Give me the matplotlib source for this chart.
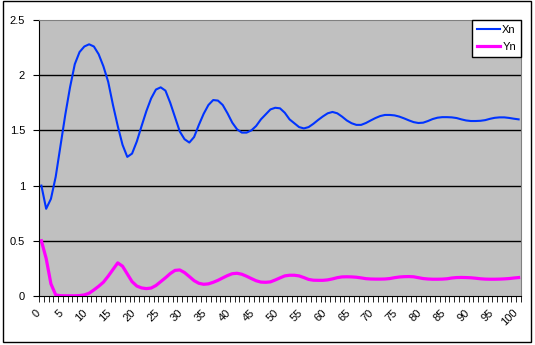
import numpy as np
import matplotlib.pyplot as plt
import matplotlib.transforms as mtransforms
from matplotlib.patches import Rectangle

plt.rcParams['font.family'] = ['Liberation Sans', 'DejaVu Sans']

# step numbers 0..100
n = list(range(101))

# values
xn = [1.00, 0.79, 0.88, 1.08, 1.36, 1.64, 1.89, 2.10, 2.21, 2.26,
      2.28, 2.26, 2.19, 2.08, 1.94, 1.73, 1.54, 1.37, 1.26, 1.29,
      1.40, 1.54, 1.675, 1.79, 1.87, 1.89, 1.86, 1.75, 1.62, 1.49,
      1.42, 1.39, 1.44, 1.55, 1.65, 1.73, 1.775, 1.77, 1.73, 1.655,
      1.57, 1.51, 1.48, 1.48, 1.50, 1.54, 1.60, 1.645, 1.69, 1.705,
      1.70, 1.66, 1.60, 1.565, 1.53, 1.518, 1.53, 1.56, 1.595, 1.627,
      1.655, 1.667, 1.655, 1.625, 1.59, 1.565, 1.55, 1.55, 1.567, 1.59,
      1.612, 1.63, 1.64, 1.64, 1.636, 1.625, 1.609, 1.591, 1.575, 1.567,
      1.57, 1.585, 1.603, 1.615, 1.62, 1.62, 1.618, 1.612, 1.60, 1.59,
      1.585, 1.585, 1.587, 1.593, 1.605, 1.614, 1.618, 1.618, 1.613, 1.606,
      1.60]

yn = [0.50, 0.34, 0.11, 0.01, 0.003, 0.002, 0.002, 0.002, 0.004, 0.01,
      0.025, 0.055, 0.088, 0.125, 0.18, 0.24, 0.30, 0.27, 0.20, 0.13,
      0.09, 0.073, 0.067, 0.072, 0.095, 0.13, 0.165, 0.203, 0.232, 0.236,
      0.212, 0.176, 0.139, 0.115, 0.106, 0.11, 0.124, 0.142, 0.164, 0.185,
      0.202, 0.206, 0.197, 0.179, 0.158, 0.138, 0.126, 0.124, 0.128, 0.145,
      0.164, 0.182, 0.188, 0.188, 0.182, 0.167, 0.15, 0.143, 0.142, 0.142,
      0.146, 0.155, 0.166, 0.173, 0.174, 0.173, 0.17, 0.164, 0.157, 0.154,
      0.153, 0.153, 0.154, 0.158, 0.166, 0.172, 0.175, 0.176, 0.174, 0.166,
      0.158, 0.154, 0.152, 0.152, 0.153, 0.156, 0.163, 0.167, 0.168, 0.167,
      0.165, 0.161, 0.156, 0.153, 0.152, 0.152, 0.153, 0.155, 0.158, 0.163,
      0.167]

xtick_vals = list(range(0, 101, 5))
ytick_vals = [0, 0.5, 1, 1.5, 2, 2.5]
ytick_labels = ['0', '0.5', '1', '1.5', '2', '2.5']

fig = plt.figure(figsize=(5.35, 3.45), dpi=100)
ax = fig.add_axes([39/535, 1 - 296/345, (521 - 39)/535, (296 - 20)/345])
ax.set_facecolor('#c0c0c0')

# outer chart border
fig.patches.append(Rectangle((3/535, 3/345), 528/535, 341/345, transform=fig.transFigure,
                             fill=False, edgecolor='black', linewidth=1))

ax.plot(n, xn, color='#0033ff', lw=1.5, label='Xn', solid_joinstyle='round')
ax.plot(n, yn, color='#ff00ff', lw=2.3, label='Yn', solid_joinstyle='round')

ax.set_xlim(-0.5, 100.5)
ax.set_ylim(0, 2.5)

# grid lines
for g in ytick_vals[1:-1]:
    ax.axhline(g, color='black', lw=1, zorder=1)

ax.set_yticks(ytick_vals)
ax.set_yticklabels(ytick_labels, fontsize=8)
ax.tick_params(axis='y', length=4, pad=6, color='black')

ax.set_xticks(xtick_vals)
ax.set_xticklabels([str(v) for v in xtick_vals], fontsize=8, rotation=45,
                   ha='right', va='center', rotation_mode='anchor')
ax.set_xticks(np.arange(-0.5, 101, 1), minor=True)
ax.tick_params(axis='x', which='major', length=0, pad=11)
ax.tick_params(axis='x', which='minor', length=4, color='black')
# nudge the slanted labels a little to the left, like the original
shift = mtransforms.ScaledTranslation(-3/100, 0, fig.dpi_scale_trans)
for lbl in ax.get_xticklabels():
    lbl.set_transform(lbl.get_transform() + shift)

for s in ['top', 'right']:
    ax.spines[s].set_color('#808080')
for s in ['left', 'bottom']:
    ax.spines[s].set_color('black')

leg = ax.legend(loc='upper right', bbox_to_anchor=(1, 1), borderaxespad=0,
                fancybox=False, edgecolor='black', framealpha=1, fontsize=8,
                handlelength=2.1, handletextpad=0.2, labelspacing=0.6,
                borderpad=0.45)
leg.get_frame().set_linewidth(1)

fig.savefig('out.png', dpi=100, facecolor='white')
